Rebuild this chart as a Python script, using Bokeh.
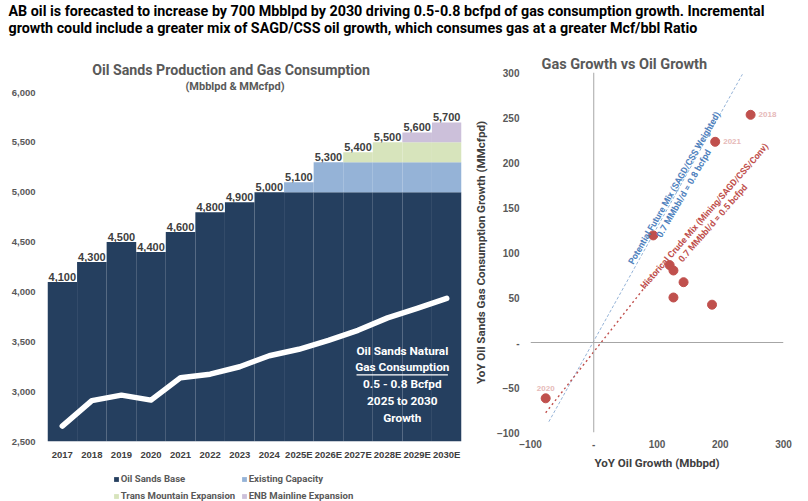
from bokeh.plotting import figure
from bokeh.layouts import column, row
from bokeh.models import (ColumnDataSource, Range1d, FixedTicker, NumeralTickFormatter,
                          Legend, LegendItem, Title, Span)
from bokeh.core.properties import value
from bokeh.embed import file_html
from bokeh.resources import INLINE

COND = "Roboto"
SANS = "Liberation Sans"
GREY = "#595959"
DARK = "#404040"

# ---------------- data ----------------
years = ["2017", "2018", "2019", "2020", "2021", "2022", "2023", "2024",
         "2025E", "2026E", "2027E", "2028E", "2029E", "2030E"]
oil_sands_base = [4100, 4300, 4500, 4400, 4600, 4800, 4900, 5000,
                  5000, 5000, 5000, 5000, 5000, 5000]
existing_capacity = [0, 0, 0, 0, 0, 0, 0, 0, 100, 300, 300, 300, 300, 300]
trans_mountain = [0, 0, 0, 0, 0, 0, 0, 0, 0, 0, 100, 200, 200, 200]
enb_mainline = [0, 0, 0, 0, 0, 0, 0, 0, 0, 0, 0, 0, 100, 200]
gas_consumption = [2655, 2910, 2965, 2915, 3140, 3175, 3250, 3360,
                   3425, 3515, 3615, 3740, 3835, 3935]

oil_growth = [248, 192, 94, 120, 126, 142, 126, 187, -76]
gas_growth = [253, 223, 119, 86, 80, 67, 50, 42, -62]
growth_year = ["2018", "2021", "", "", "", "", "", "", "2020"]

future_mix_x = [-71, 235]
future_mix_y = [-88, 298]
historical_mix_x = [-76, 87]
historical_mix_y = [-78, 67]

series_cols = ["base", "existing", "tmx", "enb"]
series_names = ["Oil Sands Base", "Existing Capacity",
                "Trans Mountain Expansion", "ENB Mainline Expansion"]
series_colors = ["#253F5F", "#95B3D7", "#D7E4BC", "#CCC0DA"]


def bare(fig):
    fig.outline_line_color = None
    fig.grid.visible = False
    return fig


# ---------------- header ----------------
head = bare(figure(width=808, height=42, x_range=Range1d(0, 808), y_range=Range1d(42, 0),
                   x_axis_type=None, y_axis_type=None, title=None,
                   output_backend="svg", toolbar_location=None, min_border=0))
head.text(x=[8, 8], y=[10, 27],
          text=["AB oil is forecasted to increase by 700 Mbblpd by 2030 driving 0.5-0.8 bcfpd "
                "of gas consumption growth. Incremental",
                "growth could include a greater mix of SAGD/CSS oil growth, which consumes gas "
                "at a greater Mcf/bbl Ratio"],
          text_font=value(COND), text_font_style="bold", text_font_size="14.3px",
          text_baseline="middle", text_align="left", text_color="black")

# ---------------- production & gas consumption ----------------
xs = list(range(len(years)))
totals = [a + b + c + d for a, b, c, d in
          zip(oil_sands_base, existing_capacity, trans_mountain, enb_mainline)]
src = ColumnDataSource(dict(
    x=xs, base=oil_sands_base, existing=existing_capacity, tmx=trans_mountain,
    enb=enb_mainline, total=totals, label=[f"{t:,}" for t in totals], gas=gas_consumption))

p1 = bare(figure(width=470, height=430, x_range=Range1d(-0.5, len(years) - 0.5),
                 y_range=Range1d(2500, 6000), title=None,
                 output_backend="svg", toolbar_location=None, frame_align=False,
                 min_border_left=47, min_border_right=9, min_border_top=50,
                 min_border_bottom=31))

bars = p1.vbar_stack(series_cols, x="x", width=1.0,
                     fill_color=series_colors, line_color=None, source=src)
p1.line("x", "gas", source=src, line_color="white", line_width=5.5,
        line_join="round", line_cap="round")
p1.text("x", "total", text="label", source=src, text_align="center", text_baseline="bottom",
        y_offset=-1, text_font=value(SANS), text_font_style="bold", text_font_size="11px",
        text_color=DARK)

p1.text(x=[11.5], y=[3074],
        text=["Oil Sands Natural\nGas Consumption\n0.5 - 0.8 Bcfpd\n2025 to 2030\nGrowth"],
        text_align="center", text_baseline="middle", text_line_height=1.2,
        text_font=value(COND), text_font_style="bold", text_font_size="11.8px",
        text_color="white")
p1.segment(x0=[9.95], y0=[3168], x1=[13.04], y1=[3168], line_color="white", line_width=1.3)

p1.yaxis.ticker = FixedTicker(ticks=list(range(2500, 6001, 500)))
p1.yaxis.formatter = NumeralTickFormatter(format="0,0")
p1.xaxis.ticker = FixedTicker(ticks=xs)
p1.xaxis.major_label_overrides = {i: y for i, y in enumerate(years)}
for ax in (p1.xaxis[0], p1.yaxis[0]):
    ax.axis_line_color = None
    ax.major_tick_line_color = None
    ax.minor_tick_line_color = None
    ax.major_tick_out = 0
    ax.major_tick_in = 0
    ax.major_label_text_font = SANS
    ax.major_label_text_font_style = "bold"
p1.yaxis.major_label_text_font_size = "9.5px"
p1.yaxis.major_label_text_color = GREY
p1.yaxis.major_label_standoff = 12
p1.xaxis.major_label_text_font_size = "9.5px"
p1.xaxis.major_label_text_color = DARK
p1.xaxis.major_label_standoff = 7

p1.add_layout(Title(text="(Mbblpd & MMcfpd)", align="left", offset=138, standoff=0,
                    text_font=COND, text_font_style="bold", text_font_size="11px",
                    text_color=GREY), "above")
p1.add_layout(Title(text="Oil Sands Production and Gas Consumption", align="left", offset=44.7,
                    standoff=0, text_font=COND, text_font_style="bold",
                    text_font_size="14.2px", text_color=GREY), "above")

# legend strip under the production chart; its swatch renderers share the bar data
# but sit outside the strip's visible range
leg = bare(figure(width=470, height=29, x_range=Range1d(-100, -99), y_range=Range1d(0, 1),
                  x_axis_type=None, y_axis_type=None, title=None, frame_align=False,
                  output_backend="svg", toolbar_location=None, min_border=0))
swatches = [leg.vbar(x="x", top=c, width=1, fill_color=col, line_color=None, source=src)
            for c, col in zip(series_cols, series_colors)]
items = [LegendItem(label=n, renderers=[r]) for n, r in zip(series_names, swatches)]
# two columns filled top-to-bottom: (Base, Trans Mountain) then (Existing, ENB)
legend = Legend(items=[items[0], items[2], items[1], items[3]],
                ncols=2, location=(112.7, -1), padding=0, margin=0, spacing=4,
                glyph_width=6, glyph_height=6, label_standoff=2, label_width=116,
                label_height=13, border_line_color=None, background_fill_alpha=0,
                label_text_font=COND, label_text_font_style="bold",
                label_text_font_size="9.6px", label_text_color=GREY)
leg.add_layout(legend)

# ---------------- gas growth vs oil growth ----------------
p2 = bare(figure(width=338, height=459, x_range=Range1d(-100, 300), y_range=Range1d(-100, 300),
                 title=None, output_backend="svg", toolbar_location=None, frame_align=False,
                 min_border_left=52, min_border_right=25, min_border_top=30,
                 min_border_bottom=69))
p2.add_layout(Span(location=0, dimension="width", line_color="#A6A6A6", line_width=1))
p2.add_layout(Span(location=0, dimension="height", line_color="#A6A6A6", line_width=1))

p2.line(future_mix_x, future_mix_y, line_color="#95B3D7", line_dash="3 2", line_width=1)
p2.line(historical_mix_x, historical_mix_y, line_color="#C0504D", line_dash="2 3",
        line_width=1.4)

p2.scatter(oil_growth, gas_growth, size=9, fill_color="#C0504D", line_color="#C0504D")

right_lab = [(x, y, t) for x, y, t in zip(oil_growth, gas_growth, growth_year)
             if t and y > 0]
top_lab = [(x, y, t) for x, y, t in zip(oil_growth, gas_growth, growth_year)
           if t and y <= 0]
p2.text([a[0] for a in right_lab], [a[1] for a in right_lab], text=[a[2] for a in right_lab],
        x_offset=8, text_align="left", text_baseline="middle", text_font=value(SANS),
        text_font_style="bold", text_font_size="8px", text_color="#E6B9B8")
p2.text([a[0] for a in top_lab], [a[1] for a in top_lab], text=[a[2] for a in top_lab],
        y_offset=-7, text_align="center", text_baseline="bottom", text_font=value(SANS),
        text_font_style="bold", text_font_size="8px", text_color="#E6B9B8")

p2.text(x=[134.8], y=[168.6],
        text=["Potential Future Mix (SAGD/CSS Weighted)\n0.7 MMbbl/d = 0.8 bcfpd"],
        angle=60, angle_units="deg", text_align="center", text_baseline="middle",
        text_line_height=1.1, text_font=value(COND), text_font_style="bold",
        text_font_size="9px", text_color="#4F81BD")
p2.text(x=[181.8], y=[136.6],
        text=["Historical Crude Mix (Mining/SAGD/CSS/Conv)\n0.7 MMbbl/d = 0.5 bcfpd"],
        angle=49, angle_units="deg", text_align="center", text_baseline="middle",
        text_line_height=1.1, text_font=value(COND), text_font_style="bold",
        text_font_size="9px", text_color="#C0504D")

p2.xaxis.ticker = FixedTicker(ticks=[-100, 0, 100, 200, 300])
p2.yaxis.ticker = FixedTicker(ticks=list(range(-100, 301, 50)))
p2.xaxis.major_label_overrides = {0: "-"}
p2.yaxis.major_label_overrides = {0: "-"}
for ax in (p2.xaxis[0], p2.yaxis[0]):
    ax.axis_line_color = None
    ax.major_tick_line_color = None
    ax.minor_tick_line_color = None
    ax.major_tick_out = 0
    ax.major_tick_in = 0
    ax.major_label_text_font = SANS
    ax.major_label_text_font_style = "bold"
    ax.major_label_text_font_size = "10px"
    ax.major_label_text_color = GREY
    ax.axis_label_text_font = COND
    ax.axis_label_text_font_style = "bold"
    ax.axis_label_text_font_size = "11.6px"
    ax.axis_label_text_color = DARK
p2.yaxis.major_label_standoff = 11
p2.xaxis.major_label_standoff = 7
p2.yaxis.axis_label = "YoY Oil Sands Gas Consumption Growth (MMcfpd)"
p2.xaxis.axis_label = "YoY Oil Growth (Mbbpd)"
p2.yaxis.axis_label_standoff = 6
p2.xaxis.axis_label_standoff = 5

p2.add_layout(Title(text="Gas Growth vs Oil Growth", align="left", offset=11, standoff=0,
                    text_font=COND, text_font_style="bold", text_font_size="14.5px",
                    text_color=GREY), "above")

layout = column(head, row(column(p1, leg), p2))
open("out.html", "w").write(file_html(layout, INLINE))
